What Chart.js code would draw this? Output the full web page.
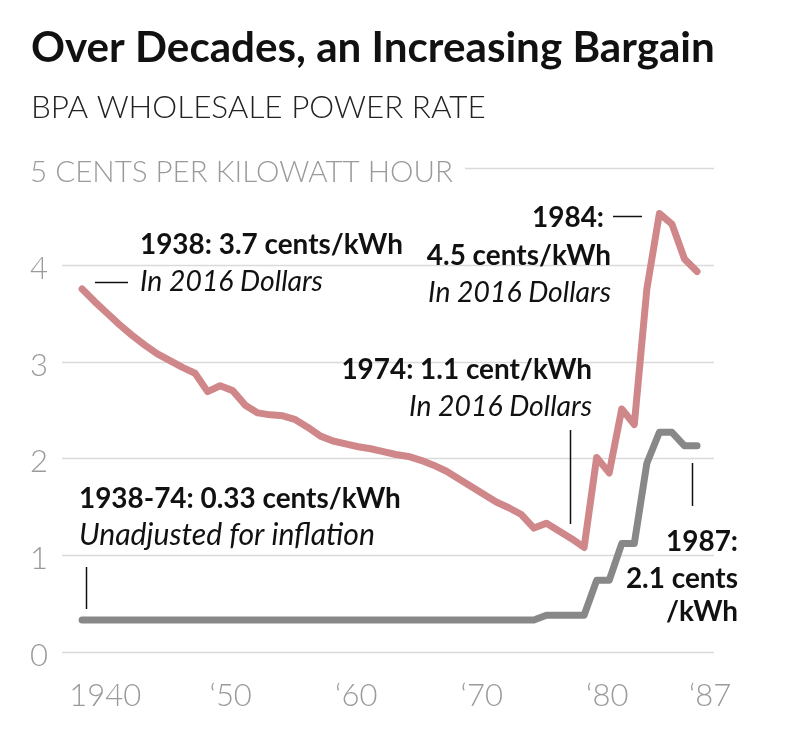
<!DOCTYPE html>
<html>
<head>
<meta charset="utf-8">
<script src="https://cdn.jsdelivr.net/npm/chart.js@4"></script>
<style>
  html, body { margin: 0; padding: 0; background: #fff; }
  #wrap { width: 800px; height: 734px; }
</style>
</head>
<body>
<div id="wrap"><canvas id="chart" width="800" height="734"></canvas></div>
<script>
// BPA wholesale power rate, cents per kWh
const years = [1938, 1939, 1940, 1941, 1942, 1943, 1944, 1945, 1946, 1947,
  1948, 1949, 1950, 1951, 1952, 1953, 1954, 1955, 1956, 1957,
  1958, 1959, 1960, 1961, 1962, 1963, 1964, 1965, 1966, 1967,
  1968, 1969, 1970, 1971, 1972, 1973, 1974, 1975, 1976, 1977,
  1978, 1979, 1980, 1981, 1982, 1983, 1984, 1985, 1986, 1987];

// in 2016 dollars
const realCents = [3.75, 3.62, 3.50, 3.38, 3.27, 3.17, 3.08, 3.01, 2.94, 2.88,
  2.69, 2.75, 2.70, 2.55, 2.47, 2.45, 2.44, 2.40, 2.32, 2.23,
  2.18, 2.15, 2.12, 2.10, 2.07, 2.04, 2.02, 1.98, 1.93, 1.87,
  1.79, 1.71, 1.63, 1.55, 1.49, 1.42, 1.28, 1.33, 1.25, 1.17,
  1.08, 2.01, 1.85, 2.51, 2.35, 3.75, 4.53, 4.42, 4.06, 3.93];

// unadjusted for inflation
const nominalCents = [0.33, 0.33, 0.33, 0.33, 0.33, 0.33, 0.33, 0.33, 0.33, 0.33,
  0.33, 0.33, 0.33, 0.33, 0.33, 0.33, 0.33, 0.33, 0.33, 0.33,
  0.33, 0.33, 0.33, 0.33, 0.33, 0.33, 0.33, 0.33, 0.33, 0.33,
  0.33, 0.33, 0.33, 0.33, 0.33, 0.33, 0.33, 0.38, 0.38, 0.38,
  0.38, 0.74, 0.74, 1.12, 1.12, 1.95, 2.27, 2.27, 2.13, 2.13];

const yTicks = [0, 1, 2, 3, 4, 5];
const yUnit = 'CENTS PER KILOWATT HOUR';
const xTickYears = [1940, 1950, 1960, 1970, 1980, 1987];
const xTickLabels = ['1940', '\u201850', '\u201860', '\u201870', '\u201880', '\u201887'];

const FAMILY = 'Lato, "Open Sans", sans-serif';
const RED = '#d0878a';
const GREY = '#888888';

// pick a font size so the text spans the width it has in the original
function fitFont(ctx, text, style, width) {
  ctx.font = `${style} 100px ${FAMILY}`;
  const size = 100 * width / ctx.measureText(text).width;
  return `${style} ${size.toFixed(2)}px ${FAMILY}`;
}

function leader(ctx, x0, y0, x1, y1) {
  ctx.beginPath();
  ctx.moveTo(x0, y0);
  ctx.lineTo(x1, y1);
  ctx.stroke();
}

const decorations = {
  id: 'decorations',
  beforeDatasetsDraw(chart) {
    const { ctx, chartArea: a, scales: { y } } = chart;
    ctx.save();
    ctx.font = fitFont(ctx, '5 ' + yUnit, 'normal 300', 423);
    const topStart = 30 + ctx.measureText('5 ' + yUnit).width + 12;
    ctx.strokeStyle = '#dadada';
    ctx.lineWidth = 1.5;
    yTicks.forEach(v => {
      const py = Math.round(y.getPixelForValue(v)) + 0.5;
      leader(ctx, v === 5 ? topStart : a.left, py, a.right, py);
    });
    ctx.restore();
  },
  afterDraw(chart) {
    const { ctx, scales: { x, y } } = chart;
    ctx.save();

    // title block
    ctx.fillStyle = '#111';
    ctx.textAlign = 'left';
    ctx.textBaseline = 'alphabetic';
    ctx.font = fitFont(ctx, 'Over Decades, an Increasing Bargain', 'normal 700', 684);
    ctx.fillText('Over Decades, an Increasing Bargain', 31, 62);
    ctx.fillStyle = '#222';
    ctx.font = fitFont(ctx, 'BPA WHOLESALE POWER RATE', 'normal 300', 455);
    ctx.fillText('BPA WHOLESALE POWER RATE', 31, 118);

    // axis labels
    const unitFont = fitFont(ctx, '5 ' + yUnit, 'normal 300', 423);
    const digitFont = fitFont(ctx, '1940', 'normal 300', 72);
    ctx.fillStyle = '#9a9a9a';
    yTicks.forEach(v => {
      ctx.font = v === 5 ? unitFont : digitFont;
      const label = v === 5 ? '5 ' + yUnit : String(v);
      ctx.fillText(label, 30, y.getPixelForValue(v) + 14);
    });
    ctx.font = digitFont;
    ctx.textAlign = 'center';
    xTickYears.forEach((yr, i) => {
      const shift = i === xTickYears.length - 1 ? 13 : -2;
      ctx.fillText(xTickLabels[i], x.getPixelForValue(yr) + shift, 706);
    });

    // annotations
    const bold = fitFont(ctx, '1938: 3.7 cents/kWh', 'normal 700', 263);
    const ital = fitFont(ctx, 'In 2016 Dollars', 'italic 400', 183);
    const italWide = fitFont(ctx, 'Unadjusted for inflation', 'italic 400', 296);
    ctx.fillStyle = '#111';
    ctx.strokeStyle = '#111';
    ctx.lineWidth = 1.5;

    ctx.textAlign = 'left';
    ctx.font = bold;
    ctx.fillText('1938: 3.7 cents/kWh', 140, 254);
    ctx.fillText('1938-74: 0.33 cents/kWh', 79, 508);
    ctx.font = ital;
    ctx.fillText('In 2016 Dollars', 140, 291);
    ctx.font = italWide;
    ctx.fillText('Unadjusted for inflation', 79, 545);
    leader(ctx, 95, 282.5, 128, 282.5);
    leader(ctx, 86.5, 567, 86.5, 609);

    ctx.textAlign = 'right';
    ctx.font = bold;
    ctx.fillText('1984:', 604, 227);
    ctx.fillText('4.5 cents/kWh', 611, 265);
    ctx.fillText('1974: 1.1 cent/kWh', 592, 379);
    ctx.fillText('1987:', 738, 551);
    ctx.fillText('2.1 cents', 738, 588);
    ctx.fillText('/kWh', 738, 621);
    ctx.font = ital;
    ctx.fillText('In 2016 Dollars', 611, 302);
    ctx.fillText('In 2016 Dollars', 592, 416);
    leader(ctx, 613, 216.5, 642, 216.5);
    leader(ctx, 570.5, 430, 570.5, 524);
    leader(ctx, 692.5, 463, 692.5, 506);

    ctx.restore();
  }
};

const toPoints = vals => years.map((yr, i) => ({ x: yr, y: vals[i] }));

new Chart(document.getElementById('chart'), {
  type: 'line',
  data: {
    datasets: [
      {
        label: 'Unadjusted',
        data: toPoints(nominalCents),
        borderColor: GREY,
        borderWidth: 7,
        borderCapStyle: 'round',
        borderJoinStyle: 'round',
        pointRadius: 0,
        tension: 0,
      },
      {
        label: 'In 2016 dollars',
        data: toPoints(realCents),
        borderColor: RED,
        borderWidth: 7,
        borderCapStyle: 'round',
        borderJoinStyle: 'round',
        pointRadius: 0,
        tension: 0,
      },
    ],
  },
  options: {
    responsive: false,
    animation: false,
    devicePixelRatio: 1,
    layout: { padding: { left: 62, right: 86, top: 168, bottom: 82 } },
    scales: {
      x: { type: 'linear', min: 1936.4, max: 1988.35, display: false },
      y: { min: 0, max: 5, display: false },
    },
    plugins: {
      legend: { display: false },
      tooltip: { enabled: false },
    },
  },
  plugins: [decorations],
});
</script>
</body>
</html>
